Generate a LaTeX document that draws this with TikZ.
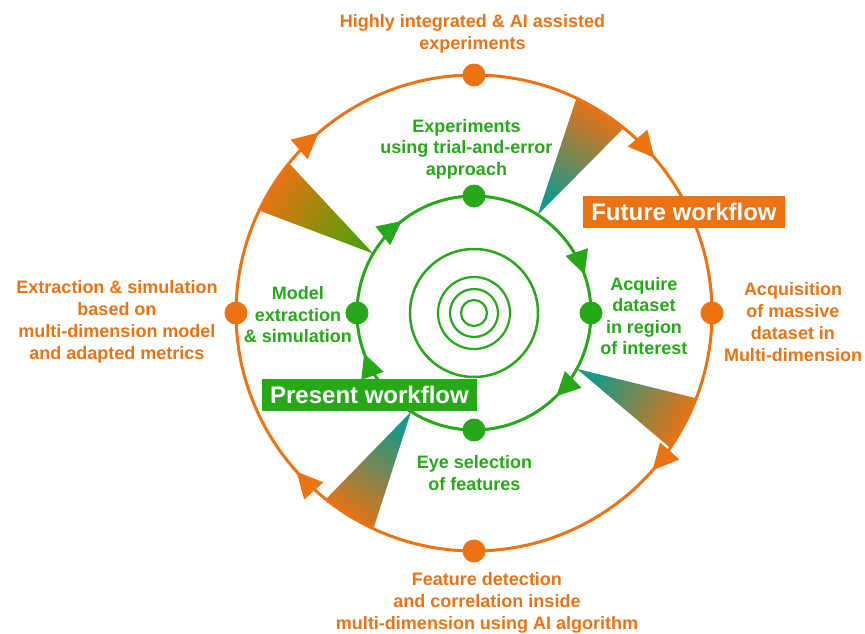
\documentclass[tikz,border=0pt]{standalone}
\usepackage{fontspec}
\setmainfont{Liberation Sans}
\usetikzlibrary{arrows.meta, decorations.markings}

\definecolor{wforange}{RGB}{236,114,18}
\definecolor{wfgreen}{RGB}{38,168,24}
\definecolor{wfteal}{RGB}{22,152,138}
\definecolor{wfolive}{RGB}{88,158,8}

\begin{document}
\begin{tikzpicture}[
        x=1pt, y=1pt,
        outertext/.style={text=wforange, font=\fontsize{18}{22}\selectfont\bfseries, align=center, inner sep=0pt},
        innertext/.style={text=wfgreen, font=\fontsize{18}{21.5}\selectfont\bfseries, align=center, inner sep=0pt},
        odot/.style={circle, fill=wforange, inner sep=0pt, minimum size=23pt},
        gdot/.style={circle, fill=wfgreen, inner sep=0pt, minimum size=23pt}
    ]
    \useasboundingbox (-474,-320) rectangle (391,313);

    % Gradient wedges between the two loops
    \shade[top color=wforange, bottom color=wfteal, shading angle=-32]
        (57:117) -- (51:238) arc[start angle=51, end angle=64.5, radius=238pt] -- cycle;
    \shade[top color=wforange, bottom color=wfolive, shading angle=58]
        (149.5:117) -- (141:238) arc[start angle=141, end angle=154.5, radius=238pt] -- cycle;
    \shade[top color=wforange, bottom color=wfteal, shading angle=148]
        (237.5:117) -- (231.5:238) arc[start angle=231.5, end angle=245, radius=238pt] -- cycle;
    \shade[top color=wforange, bottom color=wfteal, shading angle=242]
        (331.5:117) -- (325.5:238) arc[start angle=325.5, end angle=339, radius=238pt] -- cycle;

    % Outer loop (future)
    \draw[wforange, line width=3pt, postaction={decorate}, decoration={markings,
            mark=at position 0.137 with {\arrow{Triangle[length=26pt, width=25pt]}},
            mark=at position 0.365 with {\arrow{Triangle[length=26pt, width=25pt]}},
            mark=at position 0.634 with {\arrow{Triangle[length=26pt, width=25pt]}},
            mark=at position 0.887 with {\arrow{Triangle[length=26pt, width=25pt]}}}]
        (90:238) arc[start angle=90, end angle=-270, radius=238pt];

    % Inner loop (present)
    \draw[wfgreen, line width=3pt, postaction={decorate}, decoration={markings,
            mark=at position 0.197 with {\arrow{Triangle[length=24pt, width=23pt]}},
            mark=at position 0.376 with {\arrow{Triangle[length=24pt, width=23pt]}},
            mark=at position 0.694 with {\arrow{Triangle[length=24pt, width=23pt]}},
            mark=at position 0.894 with {\arrow{Triangle[length=24pt, width=23pt]}}}]
        (90:117) arc[start angle=90, end angle=-270, radius=117pt];

    % Target rings
    \draw[wfgreen, line width=2.5pt] (0,0) circle[radius=64pt];
    \draw[wfgreen, line width=2.2pt] (0,0) circle[radius=36pt];
    \draw[wfgreen, line width=2.2pt] (0,0) circle[radius=24pt];
    \draw[wfgreen, line width=2.2pt] (0,0) circle[radius=13pt];

    % Stations
    \node[odot] (otop) at (90:238) {};
    \node[odot] (oright) at (0:238) {};
    \node[odot] (obottom) at (-90:238) {};
    \node[odot] (oleft) at (180:238) {};
    \node[gdot] (gtop) at (90:117) {};
    \node[gdot] (gright) at (0:117) {};
    \node[gdot] (gbottom) at (-90:117) {};
    \node[gdot] (gleft) at (180:117) {};

    % Labels, outer loop
    \node[outertext] (ltop) at (-1.5,279) {Highly integrated \& AI assisted\\experiments};
    \node[outertext] (lright) at (319,-9) {Acquisition\\of massive\\dataset in\\Multi-dimension};
    \node[outertext] (lbottom) at (13,-290) {Feature detection\\and correlation inside\\multi-dimension using AI algorithm};
    \node[outertext] (lleft) at (-357,-9) {Extraction \& simulation\\based on\\multi-dimension model\\and adapted metrics};

    % Labels, inner loop
    \node[innertext] (ktop) at (-7.5,164) {Experiments\\using trial-and-error\\approach};
    \node[innertext] (kright) at (170,-3) {Acquire\\dataset\\in region\\of interest};
    \node[innertext] (kbottom) at (0.5,-160) {Eye selection\\of features};
    \node[innertext] (kleft) at (-176,-2) {Model\\extraction\\\& simulation};

    % Workflow tags
    \node[fill=wforange, text=white, font=\fontsize{24}{28}\selectfont\bfseries, inner sep=0pt, minimum height=32pt, minimum width=202pt] (future) at (210,101.5) {Future workflow};
    \node[fill=wfgreen, text=white, font=\fontsize{24}{28}\selectfont\bfseries, inner sep=0pt, minimum height=32pt, minimum width=215pt] (present) at (-104.5,-82) {Present workflow};

\end{tikzpicture}
\end{document}
